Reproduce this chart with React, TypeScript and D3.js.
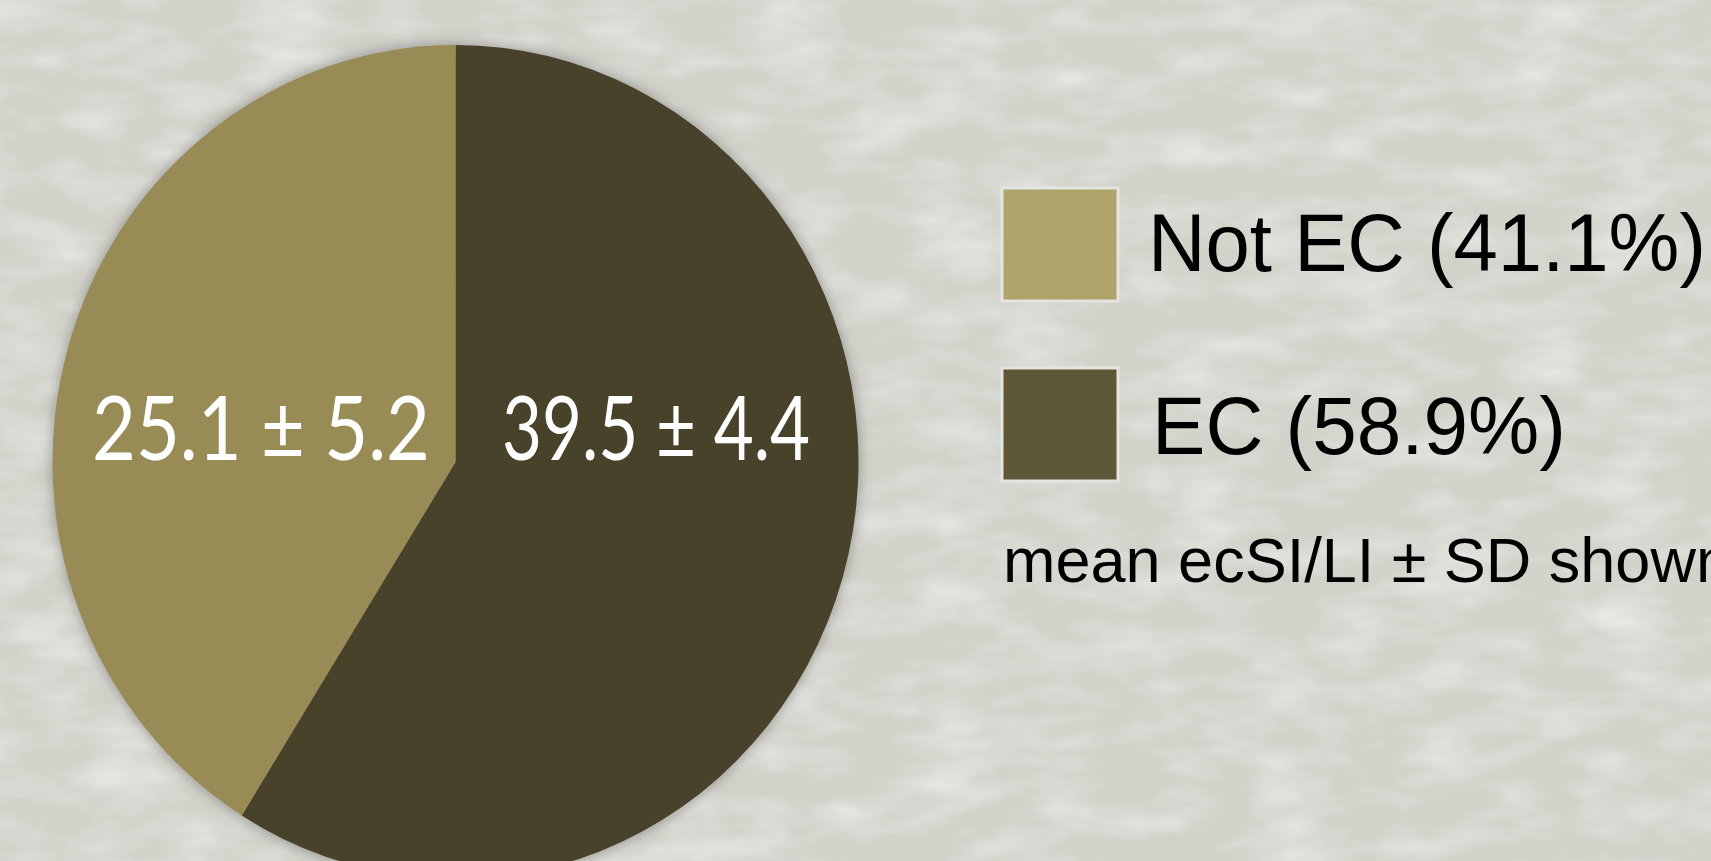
import React from "react";
import * as d3 from "d3";

const categories = ["EC", "Not EC"];
const shares = [58.9, 41.1];
const meanLabels = ["39.5 ± 4.4", "25.1 ± 5.2"];
const legendLabels = ["Not EC (41.1%)", "EC (58.9%)"];
const note = "mean ecSI/LI ± SD shown";

const W = 1711;
const H = 861;
const CX = 455.5;
const CY = 462;
const RX = 403;
const RY = 417;

const sliceColor: Record<string, string> = { EC: "#4a4229", "Not EC": "#998b55" };
const swatchColor: Record<string, string> = { EC: "#5d5637", "Not EC": "#afa26b" };

export default function App() {
  const pie = d3.pie<number>().sort(null).value((d) => d);
  const arcs = pie(shares);
  const arc = d3.arc<d3.PieArcDatum<number>>().innerRadius(0).outerRadius(RX);

  const labelPos = [
    { x: 656, y: 460, w: 308 },
    { x: 261, y: 460, w: 338 },
  ];
  const legendItems = [
    { cat: "Not EC", text: legendLabels[0], y: 188, tx: 1148, base: 271, w: 558 },
    { cat: "EC", text: legendLabels[1], y: 368, tx: 1152, base: 454, w: 414 },
  ];

  return (
    <svg
      width={W}
      height={H}
      style={{ position: "absolute", left: 0, top: 0, display: "block" }}
    >
      <defs>
        <filter id="tex" x="0" y="0" width="100%" height="100%">
          <feTurbulence type="fractalNoise" baseFrequency="0.012 0.03" numOctaves="3" seed="4" result="n" />
          <feColorMatrix
            in="n"
            type="matrix"
            values="0 0 0 0 1  0 0 0 0 1  0 0 0 0 1  0.9 0 0 0 -0.35"
          />
        </filter>
        <filter id="shadow" x="-10%" y="-10%" width="120%" height="120%">
          <feDropShadow dx="0" dy="0" stdDeviation="7" floodColor="#555" floodOpacity="0.55" />
        </filter>
      </defs>
      <rect x={0} y={0} width={W} height={H} fill="#d2d2cb" />
      <rect x={0} y={0} width={W} height={H} filter="url(#tex)" />

      <g transform={`translate(${CX},${CY}) scale(1,${RY / RX})`} filter="url(#shadow)">
        {arcs.map((a, i) => (
          <path key={categories[i]} d={arc(a) || ""} fill={sliceColor[categories[i]]} />
        ))}
      </g>

      {meanLabels.map((t, i) => (
        <text
          key={t}
          x={labelPos[i].x}
          y={labelPos[i].y}
          textAnchor="middle"
          fill="#ffffff"
          fontFamily="Lato, 'Open Sans', sans-serif"
          fontSize={90}
          textLength={labelPos[i].w}
          lengthAdjust="spacingAndGlyphs"
        >
          {t}
        </text>
      ))}

      {legendItems.map((it) => (
        <g key={it.cat}>
          <rect
            x={1002}
            y={it.y}
            width={116}
            height={113}
            fill={swatchColor[it.cat]}
            stroke="#e4e4e0"
            strokeWidth={3}
          />
          <text
            x={it.tx}
            y={it.base}
            fontFamily="'Liberation Sans', Arial, sans-serif"
            fontSize={82}
            fill="#000"
            textLength={it.w}
            lengthAdjust="spacingAndGlyphs"
          >
            {it.text}
          </text>
        </g>
      ))}

      <text
        x={1003}
        y={582}
        fontFamily="'Liberation Sans', Arial, sans-serif"
        fontSize={63}
        fill="#000"
      >
        {note}
      </text>
    </svg>
  );
}
